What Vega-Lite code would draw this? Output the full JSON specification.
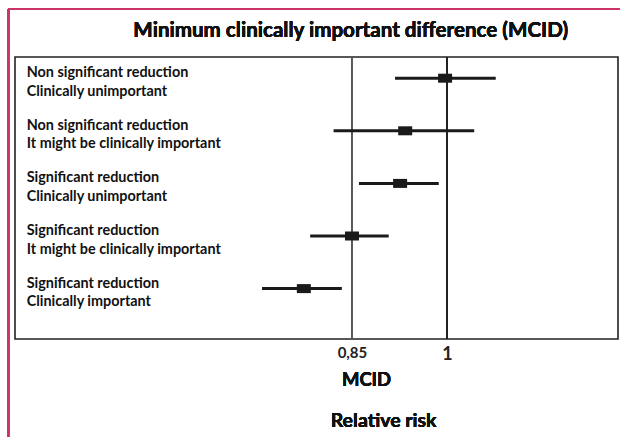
{
  "$schema": "https://vega.github.io/schema/vega-lite/v6.json",
  "width": 603,
  "height": 282,
  "autosize": {"type": "none"},
  "padding": {"left": 15, "top": 57, "right": 2, "bottom": 98},
  "background": "white",
  "config": {
    "view": {"stroke": "#222222", "strokeWidth": 1.6},
    "font": "Lato",
    "text": {"font": "Lato"}
  },
  "data": {
    "values": [
      {"row": 1, "label": "Non significant reduction\nClinically unimportant", "rr": 0.997, "lo": 0.918, "hi": 1.077},
      {"row": 2, "label": "Non significant reduction\nIt might be clinically important", "rr": 0.934, "lo": 0.821, "hi": 1.043},
      {"row": 3, "label": "Significant reduction\nClinically unimportant", "rr": 0.926, "lo": 0.861, "hi": 0.987},
      {"row": 4, "label": "Significant reduction\nIt might be clinically important", "rr": 0.85, "lo": 0.784, "hi": 0.908},
      {"row": 5, "label": "Significant reduction\nClinically important", "rr": 0.774, "lo": 0.708, "hi": 0.834}
    ]
  },
  "layer": [
    {
      "mark": {"type": "rule", "color": "#555555", "strokeWidth": 1},
      "encoding": {
        "x": {
          "datum": 0.85,
          "type": "quantitative",
          "scale": {"domain": [0.318, 1.27], "zero": false, "nice": false},
          "axis": {
            "values": [0.85, 1],
            "labelExpr": "datum.value == 1 ? '1' : '0,85'",
            "domain": false,
            "ticks": false,
            "grid": false,
            "title": null,
            "labelFont": "Lato",
            "labelFontWeight": "bold",
            "labelColor": "#222222",
            "labelFontSize": {"condition": {"test": "datum.value == 1", "value": 18}, "value": 15},
            "labelPadding": 6
          }
        }
      }
    },
    {
      "mark": {"type": "rule", "color": "#222222", "strokeWidth": 1.6},
      "encoding": {"x": {"datum": 1, "type": "quantitative"}}
    },
    {
      "mark": {"type": "rule", "color": "#1a1a1a", "strokeWidth": 3},
      "encoding": {
        "x": {"field": "lo", "type": "quantitative"},
        "x2": {"field": "hi"},
        "y": {
          "field": "row",
          "type": "quantitative",
          "scale": {"domain": [0.597, 5.958], "reverse": true, "zero": false, "nice": false},
          "axis": null
        }
      }
    },
    {
      "mark": {
        "type": "point",
        "shape": "M-1.4,-0.9L1.4,-0.9L1.4,0.9L-1.4,0.9Z",
        "size": 100,
        "filled": true,
        "color": "#1a1a1a",
        "opacity": 1
      },
      "encoding": {
        "x": {"field": "rr", "type": "quantitative"},
        "y": {"field": "row", "type": "quantitative"}
      }
    },
    {
      "mark": {
        "type": "text",
        "align": "left",
        "baseline": "middle",
        "lineBreak": "\n",
        "lineHeight": 18.5,
        "fontSize": 14.4,
        "fontWeight": "bold",
        "color": "#111111",
        "dy": -5
      },
      "encoding": {
        "x": {"datum": 0.3365, "type": "quantitative"},
        "y": {"field": "row", "type": "quantitative"},
        "text": {"field": "label"}
      }
    },
    {
      "mark": {"type": "text", "text": "Minimum clinically important difference (MCID)", "fontSize": 20.6, "fontWeight": "bold", "color": "#111111", "align": "center", "baseline": "middle"},
      "encoding": {
        "x": {"datum": 0.848, "type": "quantitative"},
        "y": {"datum": 0.103, "type": "quantitative"}
      }
    },
    {
      "mark": {"type": "text", "text": "MCID", "fontSize": 18.5, "fontWeight": "bold", "color": "#111111", "align": "center", "baseline": "middle"},
      "encoding": {
        "x": {"datum": 0.873, "type": "quantitative"},
        "y": {"datum": 6.738, "type": "quantitative"}
      }
    },
    {
      "mark": {"type": "text", "text": "Relative risk", "fontSize": 19.5, "fontWeight": "bold", "color": "#111111", "align": "center", "baseline": "middle"},
      "encoding": {
        "x": {"datum": 0.9, "type": "quantitative"},
        "y": {"datum": 7.517, "type": "quantitative"}
      }
    },
    {
      "mark": {"type": "rule", "color": "#cc3366", "strokeWidth": 2, "clip": false},
      "encoding": {
        "x": {"datum": 0.3077, "type": "quantitative"},
        "y": {"datum": -0.316, "type": "quantitative"},
        "y2": {"datum": 8}
      }
    },
    {
      "mark": {"type": "rule", "color": "#cc3366", "strokeWidth": 2, "clip": false},
      "encoding": {
        "x": {"datum": 0.3077, "type": "quantitative"},
        "x2": {"datum": 1.28},
        "y": {"datum": -0.316, "type": "quantitative"}
      }
    }
  ]
}
